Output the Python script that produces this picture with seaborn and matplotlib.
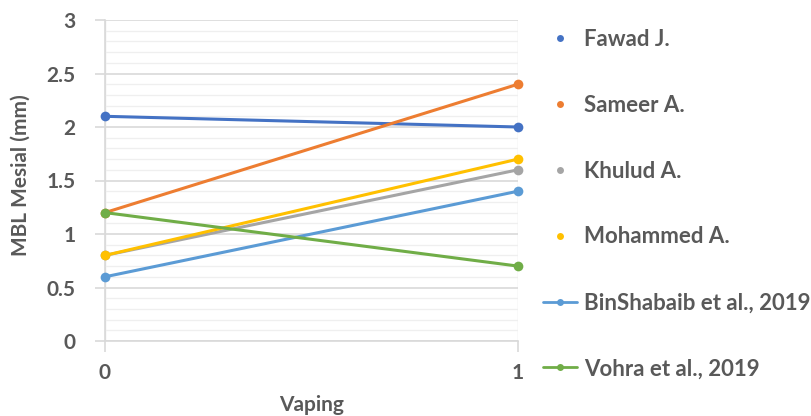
import matplotlib
matplotlib.use("Agg")
import matplotlib.pyplot as plt
from matplotlib.lines import Line2D
from matplotlib.ticker import MultipleLocator
import seaborn as sns
import pandas as pd

# Mesial marginal bone loss per study, non-vaping (0) vs vaping (1)
studies = ["Fawad J.", "Sameer A.", "Khulud A.", "Mohammed A.",
           "BinShabaib et al., 2019", "Vohra et al., 2019"]
vaping = [0, 1]
mbl_nonvaping = [2.1, 1.2, 0.8, 0.8, 0.6, 1.2]
mbl_vaping = [2.0, 2.4, 1.6, 1.7, 1.4, 0.7]
colors = ["#4472C4", "#ED7D31", "#A5A5A5", "#FFC000", "#5B9BD5", "#70AD47"]
yticks = [0, 0.5, 1, 1.5, 2, 2.5, 3]
ytick_labels = ["0", "0.5", "1", "1.5", "2", "2.5", "3"]

rows = []
for s, a, b in zip(studies, mbl_nonvaping, mbl_vaping):
    rows.append({"Study": s, "Vaping": vaping[0], "MBL": a})
    rows.append({"Study": s, "Vaping": vaping[1], "MBL": b})
df = pd.DataFrame(rows)

sns.set_theme(style="white")
plt.rcParams["font.family"] = ["Lato", "DejaVu Sans"]
text_col = "#595959"

fig = plt.figure(figsize=(8.12, 4.16), dpi=100)
ax = fig.add_axes([105 / 812, 1 - 341 / 416, (518 - 105) / 812, (341 - 20) / 416])

# light gridlines: minor every 0.1, major every 0.5
ax.yaxis.set_minor_locator(MultipleLocator(0.1))
ax.grid(which="minor", axis="y", color="#EFEFEF", linewidth=0.9, zorder=0)
ax.grid(which="major", axis="y", color="#D9D9D9", linewidth=1.2, zorder=0)
ax.grid(which="major", axis="x", color="#E2E2E2", linewidth=1.0, zorder=0)

sns.lineplot(data=df, x="Vaping", y="MBL", hue="Study", hue_order=studies,
             palette=colors, marker="o", markersize=7, markeredgewidth=0,
             linewidth=2.2, legend=False, ax=ax, zorder=3)
for ln in ax.lines:
    ln.set_clip_on(False)

ax.set_xlim(0, 1)
ax.set_ylim(0, 3)
ax.set_xticks(vaping)
ax.set_xticklabels([str(v) for v in vaping])
ax.set_yticks(yticks)
ax.set_yticklabels(ytick_labels)

for side in ["top", "right"]:
    ax.spines[side].set_visible(False)
for side in ["left", "bottom"]:
    ax.spines[side].set_color("#D9D9D9")
    ax.spines[side].set_linewidth(1.2)

ax.tick_params(axis="y", which="major", left=True, length=7, width=1.2,
               color="#D9D9D9", pad=14, labelsize=15, labelcolor=text_col)
ax.tick_params(axis="y", which="minor", left=False)
ax.tick_params(axis="x", bottom=True, length=8, width=1.2, color="#D9D9D9",
               pad=8, labelsize=15, labelcolor=text_col)
for lbl in ax.get_xticklabels() + ax.get_yticklabels():
    lbl.set_fontweight("bold")

ax.set_xlabel("Vaping", fontsize=15, fontweight="bold", color=text_col, va="center")
ax.xaxis.set_label_coords(0.5, -(405 - 341) / 321)
ax.set_ylabel("MBL Mesial (mm)", fontsize=15, fontweight="bold", color=text_col, va="center")
ax.yaxis.set_label_coords(-(105 - 21) / 413, 0.5 - (175 - 180) / 321)

handles = []
for i, (s, c) in enumerate(zip(studies, colors)):
    if i < 4:
        handles.append(Line2D([], [], color=c, marker="o", linestyle="none",
                              markersize=5, markeredgewidth=0))
    else:
        handles.append(Line2D([], [], color=c, marker="o", linestyle="-",
                              linewidth=2, markersize=5, markeredgewidth=0))

leg = fig.legend(handles, studies, loc="center left",
                 bbox_to_anchor=(543 / 812, 1 - 204 / 416), frameon=False,
                 fontsize=16, handlelength=1.55, handletextpad=0.3,
                 labelspacing=2.02, borderpad=0, borderaxespad=0)
for t in leg.get_texts():
    t.set_color(text_col)
    t.set_fontweight("bold")

fig.savefig("out.png", dpi=100)
